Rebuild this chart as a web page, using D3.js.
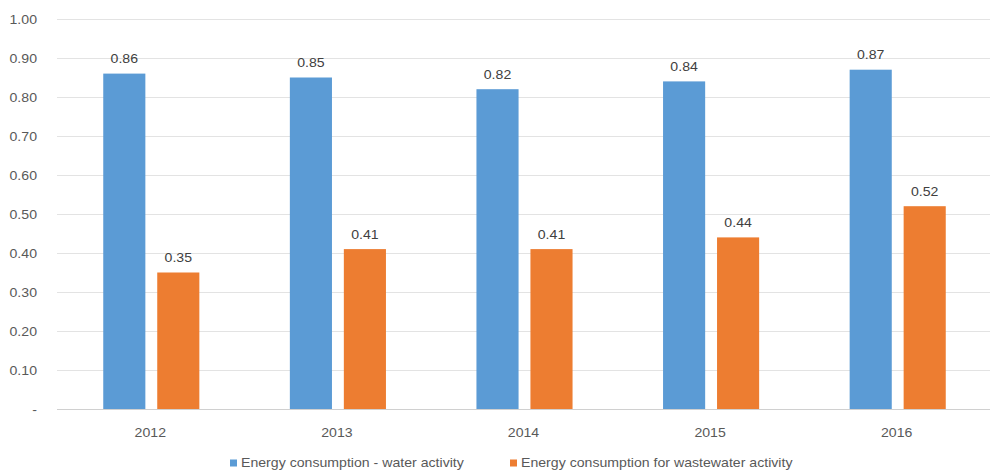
<!DOCTYPE html>
<html>
<head>
<meta charset="utf-8">
<script src="https://cdn.jsdelivr.net/npm/d3@7/dist/d3.min.js"></script>
<style>
  html, body { margin: 0; padding: 0; background: #fff; }
  svg { display: block; font-family: "Liberation Sans", Arial, Helvetica, sans-serif; }
</style>
</head>
<body>
<svg id="chart" width="995" height="471"></svg>
<script>
// Energy consumption per year, two activities
const years = ["2012", "2013", "2014", "2015", "2016"];
const waterValues = [0.86, 0.85, 0.82, 0.84, 0.87];
const wastewaterValues = [0.35, 0.41, 0.41, 0.44, 0.52];
const seriesNames = ["Energy consumption - water activity", "Energy consumption for wastewater activity"];
const yTicks = [0, 0.1, 0.2, 0.3, 0.4, 0.5, 0.6, 0.7, 0.8, 0.9, 1.0];

const colors = ["#5B9BD5", "#ED7D31"];
const series = [waterValues, wastewaterValues];
const fontSize = 12.5;
const stretch = 1.13;   // wide-set lettering

const svg = d3.select("#chart");
const margin = { left: 57, right: 5, top: 19, bottom: 62 };
const width = 995, height = 471;

const x0 = d3.scaleBand().domain(years).range([margin.left, width - margin.right]).paddingInner(0).paddingOuter(0);
const groupPad = 0.485;
const x1 = d3.scaleBand().domain([0, 1])
  .range([x0.bandwidth() * groupPad / 2 + 1, x0.bandwidth() * (1 - groupPad / 2) + 1])
  .paddingInner(0.22);
const y = d3.scaleLinear().domain([0, 1]).range([height - margin.bottom, margin.top]);

// place a text at (x, y) with horizontal stretch
function stretched(sel, xf, yf) {
  sel.attr("x", 0).attr("y", 0)
    .attr("transform", (d, i) => `translate(${xf(d, i)},${yf(d, i)}) scale(${stretch},1)`);
}

// gridlines
svg.append("g").selectAll("line").data(yTicks.filter(d => d > 0)).join("line")
  .attr("x1", margin.left).attr("x2", width - margin.right)
  .attr("y1", d => Math.round(y(d)) + 0.5).attr("y2", d => Math.round(y(d)) + 0.5)
  .attr("stroke", "#e3e3e3").attr("stroke-width", 1);

// y axis labels
const yAxis = d3.axisLeft(y).tickValues(yTicks).tickSize(0).tickPadding(0)
  .tickFormat(d => d === 0 ? "-" : d3.format(".2f")(d));
const gy = svg.append("g").attr("transform", `translate(${margin.left - 20},0)`).call(yAxis);
gy.select(".domain").remove();
gy.selectAll("text").attr("fill", "#595959").attr("font-size", fontSize)
  .attr("font-family", "'Liberation Sans', Arial, sans-serif")
  .attr("x", 0).attr("transform", `scale(${stretch},1)`);

// bars
const groups = svg.append("g").selectAll("g").data(years).join("g")
  .attr("transform", d => `translate(${x0(d)},0)`);

series.forEach((vals, si) => {
  groups.append("rect")
    .attr("x", x1(si))
    .attr("width", x1.bandwidth())
    .attr("y", (d, i) => y(vals[i]))
    .attr("height", (d, i) => y(0) - y(vals[i]))
    .attr("fill", colors[si]);
  groups.append("text")
    .attr("text-anchor", "middle")
    .attr("font-size", fontSize)
    .attr("fill", "#404040")
    .text((d, i) => d3.format(".2f")(vals[i]))
    .call(stretched, () => x1(si) + x1.bandwidth() / 2, (d, i) => y(vals[i]) - 10.5);
});

// baseline
svg.append("line")
  .attr("x1", margin.left).attr("x2", width - margin.right)
  .attr("y1", Math.round(y(0)) + 0.5).attr("y2", Math.round(y(0)) + 0.5)
  .attr("stroke", "#d0d0d0");

// x axis
const xAxis = d3.axisBottom(x0).tickSize(0).tickPadding(19);
const gx = svg.append("g").attr("transform", `translate(0,${y(0)})`).call(xAxis);
gx.select(".domain").remove();
gx.selectAll("text").attr("fill", "#595959").attr("font-size", fontSize)
  .attr("font-family", "'Liberation Sans', Arial, sans-serif")
  .attr("transform", `scale(${stretch},1)`);

// legend
const legendX = [230, 510];
const legend = svg.append("g").selectAll("g").data(seriesNames).join("g")
  .attr("transform", (d, i) => `translate(${legendX[i]},463)`);
legend.append("rect").attr("x", 0).attr("y", -3.5).attr("width", 7).attr("height", 7)
  .attr("fill", (d, i) => colors[i]);
legend.append("text").attr("dy", "0.35em")
  .attr("font-size", fontSize).attr("fill", "#595959").text(d => d)
  .call(stretched, () => 11, () => 0);
</script>
</body>
</html>
